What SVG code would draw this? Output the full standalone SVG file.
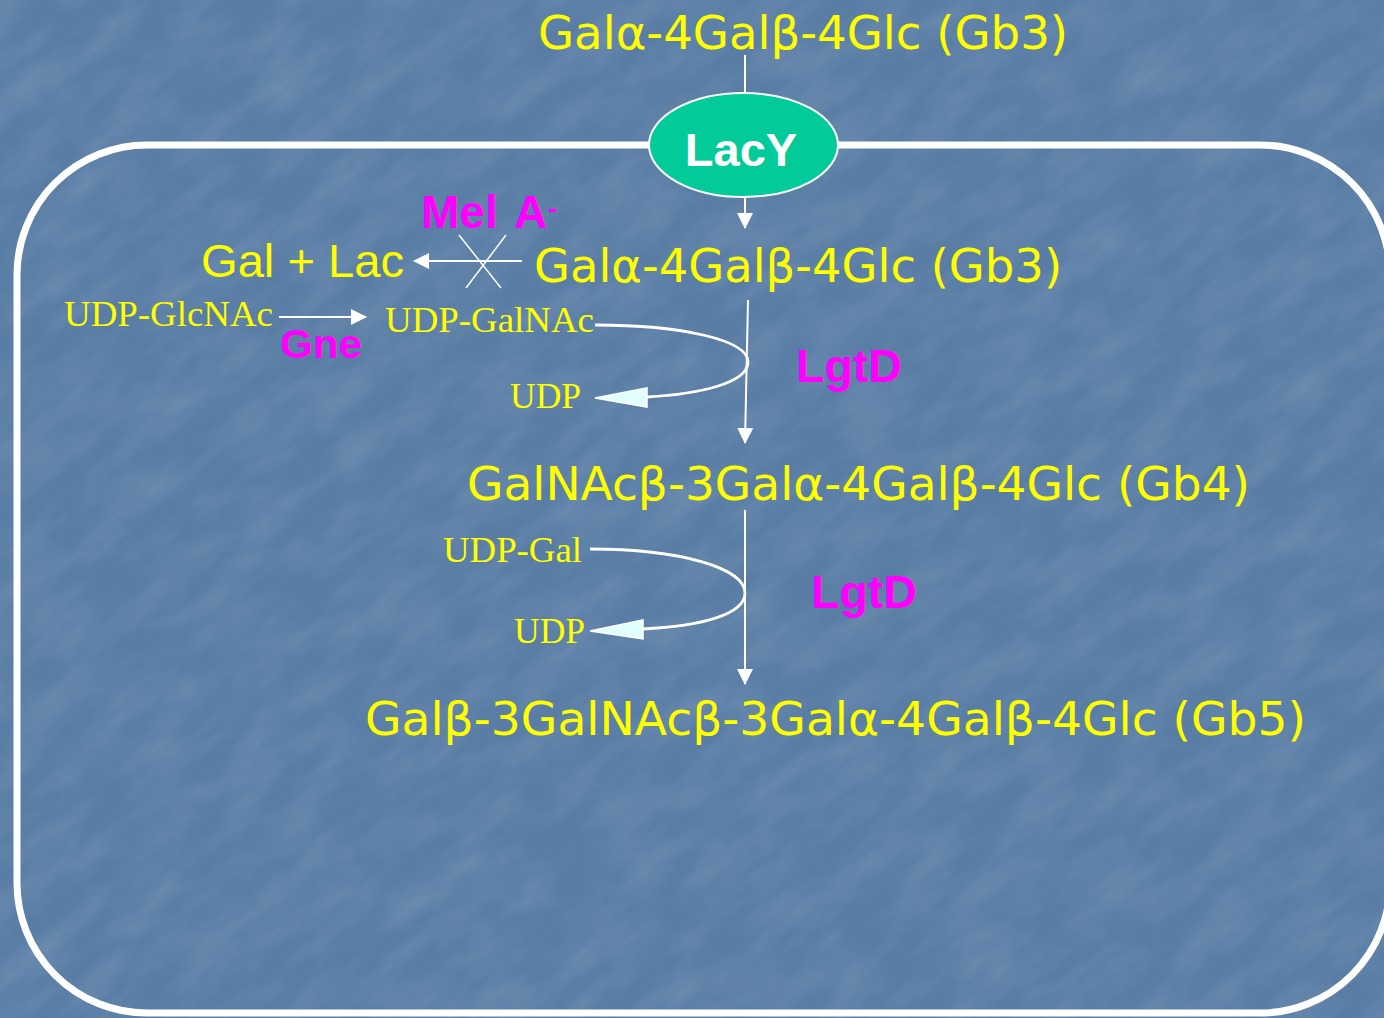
<svg xmlns="http://www.w3.org/2000/svg" width="1384" height="1018" viewBox="0 0 1384 1018">
  <defs>
    <style>
      .gb { font-family: "DejaVu Sans", "Liberation Sans", sans-serif; fill: #ffff00; font-size: 46px; }
      .sans { font-family: "Liberation Sans", Arial, sans-serif; fill: #ffff00; font-size: 47px; }
      .serif { font-family: "Liberation Serif", "Times New Roman", serif; fill: #ffff00; font-size: 36px; }
      .enz { font-family: "Liberation Sans", Arial, sans-serif; font-weight: bold; fill: #ff00ff; }
      .thin { stroke: #ffffff; stroke-width: 2; fill: none; }
      .loop { stroke: #ffffff; stroke-width: 2.8; fill: none; }
      .head { fill: #e2ffff; stroke: #ffffff; stroke-width: 1.5; }
    </style>
    <filter id="grain" x="0" y="0" width="100%" height="100%">
      <feTurbulence type="fractalNoise" baseFrequency="0.014 0.035" numOctaves="4" seed="7" result="n"/>
      <feColorMatrix in="n" type="matrix" values="0 0 0 0 1  0 0 0 0 1  0 0 0 0 1  0 0 0 0.6 -0.2"/>
    </filter>
    <marker id="tri" viewBox="0 0 16 16" refX="15" refY="8" markerWidth="16" markerHeight="16" markerUnits="userSpaceOnUse" orient="auto">
      <path d="M0,0 L16,8 L0,16 Z" fill="#ffffff"/>
    </marker>
  </defs>

  <!-- textured blue backdrop -->
  <rect x="0" y="0" width="1384" height="1018" fill="#597da5"/>
  <g transform="rotate(-35 692 509)">
    <rect x="-400" y="-400" width="2200" height="1900" filter="url(#grain)" opacity="0.3"/>
  </g>

  <!-- cell membrane -->
  <rect id="membrane" x="17" y="145" width="1373" height="868" rx="130" ry="130" fill="none" stroke="#ffffff" stroke-width="7"/>

  <!-- connectors -->
  <g id="connectors">
    <line class="thin" x1="745" y1="55" x2="745" y2="94"/>
    <line class="thin" x1="745" y1="197" x2="745" y2="228" marker-end="url(#tri)"/>
    <!-- blocked MelA hydrolysis -->
    <line class="thin" x1="522" y1="261" x2="414" y2="261" marker-end="url(#tri)"/>
    <line stroke="#ffffff" stroke-width="1.5" x1="459" y1="235" x2="501" y2="288"/>
    <line stroke="#ffffff" stroke-width="1.5" x1="506" y1="235" x2="466" y2="288"/>
    <!-- Gne epimerase -->
    <line class="thin" x1="279" y1="317" x2="366" y2="317" marker-end="url(#tri)"/>
    <!-- Gb3 to Gb4 -->
    <line class="thin" x1="748" y1="300" x2="745" y2="443" marker-end="url(#tri)"/>
    <path class="loop" d="M595,325 C682,325 748,340 748,362 C748,383 700,394 647,397"/>
    <path class="head" d="M595,398 L647,388 L647,407 Z"/>
    <!-- Gb4 to Gb5 -->
    <line class="thin" x1="745" y1="510" x2="745" y2="684" marker-end="url(#tri)"/>
    <path class="loop" d="M590,549 C680,549 745,568 745,593 C745,615 700,626 643,629"/>
    <path class="head" d="M590,631 L643,620 L643,639 Z"/>
  </g>

  <g id="gb3-out"><text class="gb" x="538" y="49" textLength="530" lengthAdjust="spacingAndGlyphs">Galα-4Galβ-4Glc (Gb3)</text></g>

  <g id="lacy">
    <ellipse cx="743.5" cy="145" rx="94.5" ry="52" fill="#02cb99" stroke="#ffffff" stroke-width="2"/>
    <text x="741" y="166" text-anchor="middle" font-family="Liberation Sans, Arial, sans-serif" font-weight="bold" font-size="47" fill="#ffffff">LacY</text>
  </g>

  <g id="mela">
    <text class="enz" x="421" y="228" font-size="46">Mel</text>
    <text class="enz" x="514" y="228" font-size="46">A</text>
    <text class="enz" x="548" y="218" font-size="28">-</text>
  </g>

  <g id="gal-lac"><text class="sans" x="201" y="277" textLength="203" lengthAdjust="spacingAndGlyphs">Gal + Lac</text></g>
  <g id="gb3-in"><text class="gb" x="534" y="282" textLength="528" lengthAdjust="spacingAndGlyphs">Galα-4Galβ-4Glc (Gb3)</text></g>

  <g id="udp-glcnac"><text class="serif" x="64" y="326" textLength="209" lengthAdjust="spacingAndGlyphs">UDP-GlcNAc</text></g>
  <g id="gne"><text class="enz" x="280" y="358" font-size="40" textLength="82" lengthAdjust="spacingAndGlyphs">Gne</text></g>
  <g id="udp-galnac"><text class="serif" x="385" y="332" textLength="209" lengthAdjust="spacingAndGlyphs">UDP-GalNAc</text></g>
  <g id="udp-1"><text class="serif" x="510" y="408" textLength="71" lengthAdjust="spacingAndGlyphs">UDP</text></g>
  <g id="lgtd-1"><text class="enz" x="796" y="382" font-size="46" textLength="106" lengthAdjust="spacingAndGlyphs">LgtD</text></g>

  <g id="gb4"><text class="gb" x="467" y="500" textLength="783" lengthAdjust="spacingAndGlyphs">GalNAcβ-3Galα-4Galβ-4Glc (Gb4)</text></g>

  <g id="udp-gal"><text class="serif" x="443" y="562" textLength="139" lengthAdjust="spacingAndGlyphs">UDP-Gal</text></g>
  <g id="udp-2"><text class="serif" x="514" y="643" textLength="71" lengthAdjust="spacingAndGlyphs">UDP</text></g>
  <g id="lgtd-2"><text class="enz" x="811" y="608" font-size="46" textLength="106" lengthAdjust="spacingAndGlyphs">LgtD</text></g>

  <g id="gb5"><text class="gb" x="365" y="735" font-size="47" textLength="941" lengthAdjust="spacingAndGlyphs">Galβ-3GalNAcβ-3Galα-4Galβ-4Glc (Gb5)</text></g>
</svg>
